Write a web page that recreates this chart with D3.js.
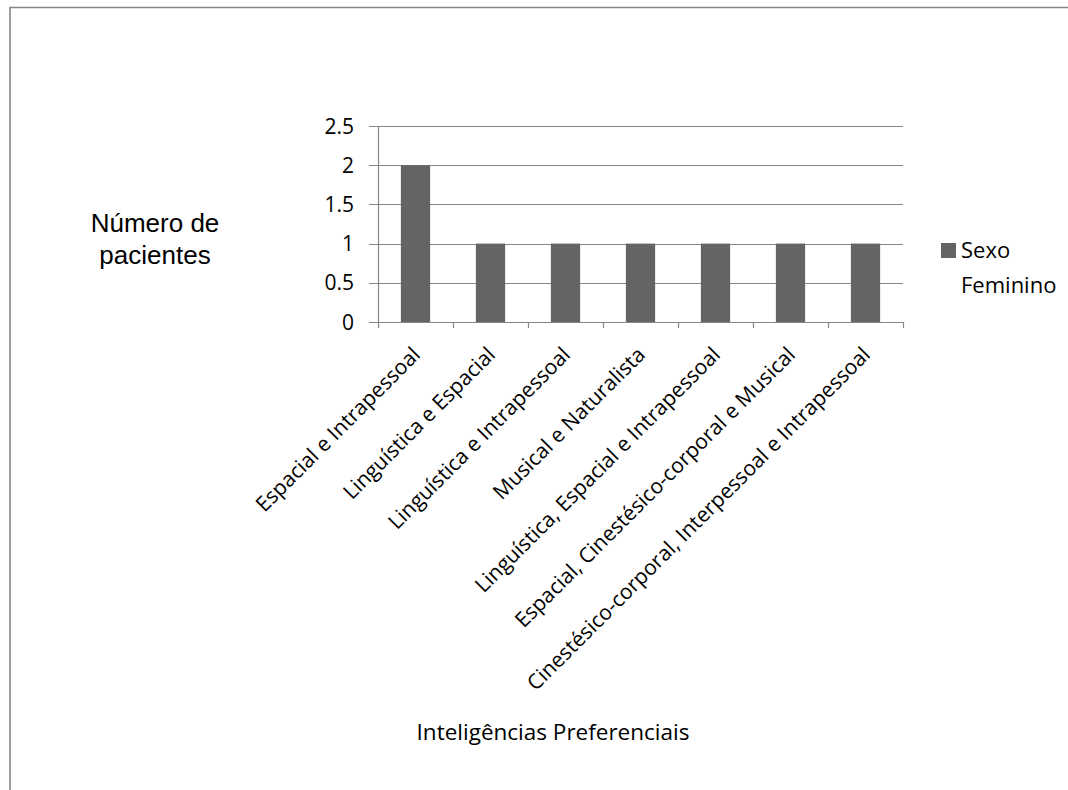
<!DOCTYPE html>
<html>
<head>
<meta charset="utf-8">
<script src="https://cdn.jsdelivr.net/npm/d3@7"></script>
<style>
  body { margin: 0; background: #fff; }
  text { font-family: "Open Sans", sans-serif; fill: #000; }
</style>
</head>
<body>
<svg id="chart" width="1068" height="790"></svg>
<script>
var categories = [
  "Espacial e Intrapessoal",
  "Linguística e Espacial",
  "Linguística e Intrapessoal",
  "Musical e Naturalista",
  "Linguística, Espacial e Intrapessoal",
  "Espacial, Cinestésico-corporal e Musical",
  "Cinestésico-corporal, Interpessoal e Intrapessoal"
]
var feminino = [2, 1, 1, 1, 1, 1, 1]
var yTicks = [0, 0.5, 1, 1.5, 2, 2.5]
var seriesName = "Sexo Feminino"

var svg = d3.select("#chart")

// outer frame (only top and left visible)
svg.append("path")
    .attr("d", "M10,790 L10,7.5 L1068,7.5")
    .attr("fill", "none")
    .attr("stroke", "#868686")
    .attr("stroke-width", 1.6)

var plotLeft = 378, plotRight = 903, plotTop = 126, plotBottom = 322

var x = d3.scaleBand().domain(categories).range([plotLeft, plotRight]).paddingInner(0.61).paddingOuter(0.305)
var xTicks = d3.scaleBand().domain(categories).range([plotLeft, plotRight])
var y = d3.scaleLinear().domain([0, 2.5]).range([plotBottom, plotTop])

// gridlines
svg.append("g").selectAll("line")
    .data(yTicks)
    .join("line")
    .attr("x1", plotLeft - 9)
    .attr("x2", plotRight)
    .attr("y1", function (d) { return Math.round(y(d)) + 0.5 })
    .attr("y2", function (d) { return Math.round(y(d)) + 0.5 })
    .attr("stroke", "#868686")
    .attr("stroke-width", 1.2)

// y axis labels
svg.append("g").selectAll("text")
    .data(yTicks)
    .join("text")
    .attr("x", 354)
    .attr("y", function (d) { return y(d) })
    .attr("dy", "0.36em")
    .attr("text-anchor", "end")
    .attr("font-size", "21px")
    .text(function (d) { return d })

// bars
svg.append("g").selectAll("rect")
    .data(feminino)
    .join("rect")
    .attr("x", function (d, i) { return x(categories[i]) })
    .attr("y", function (d) { return y(d) })
    .attr("width", x.bandwidth())
    .attr("height", function (d) { return y(0) - y(d) })
    .attr("fill", "#646464")

// axes lines
var ax = svg.append("g").attr("stroke", "#868686").attr("stroke-width", 1.2)
ax.append("line").attr("x1", plotLeft + 0.5).attr("x2", plotLeft + 0.5).attr("y1", plotTop).attr("y2", plotBottom + 6)
ax.append("line").attr("x1", plotLeft - 9).attr("x2", plotRight).attr("y1", plotBottom + 0.5).attr("y2", plotBottom + 0.5)
ax.selectAll(".tk")
    .data(categories)
    .join("line")
    .attr("class", "tk")
    .attr("x1", function (d) { return xTicks(d) + xTicks.bandwidth() + 0.5 })
    .attr("x2", function (d) { return xTicks(d) + xTicks.bandwidth() + 0.5 })
    .attr("y1", plotBottom)
    .attr("y2", plotBottom + 6)

// category labels
svg.append("g").selectAll("text")
    .data(categories)
    .join("text")
    .attr("transform", function (d) {
        return "translate(" + (x(d) + x.bandwidth() / 2 + 6) + "," + (plotBottom + 34) + ") rotate(-45)"
    })
    .attr("text-anchor", "end")
    .attr("font-size", "21px")
    .text(function (d) { return d })

// y title
svg.append("text")
    .attr("text-anchor", "middle")
    .attr("font-size", "26px")
    .style("font-family", "'Liberation Sans', Arial, sans-serif")
    .selectAll("tspan")
    .data(["Número de", "pacientes"])
    .join("tspan")
    .attr("x", 155)
    .attr("y", function (d, i) { return 232 + i * 32 })
    .text(function (d) { return d })

// x title
svg.append("text")
    .attr("x", 553)
    .attr("y", 740)
    .attr("text-anchor", "middle")
    .attr("font-size", "22.5px")
    .text("Inteligências Preferenciais")

// legend
svg.append("rect")
    .attr("x", 941)
    .attr("y", 243)
    .attr("width", 15)
    .attr("height", 15)
    .attr("fill", "#646464")
var leg = seriesName.split(" ")
svg.append("text").attr("x", 961).attr("y", 258).attr("font-size", "22px").text(leg[0])
svg.append("text").attr("x", 961).attr("y", 293).attr("font-size", "22px").text(leg[1])
</script>
</body>
</html>
